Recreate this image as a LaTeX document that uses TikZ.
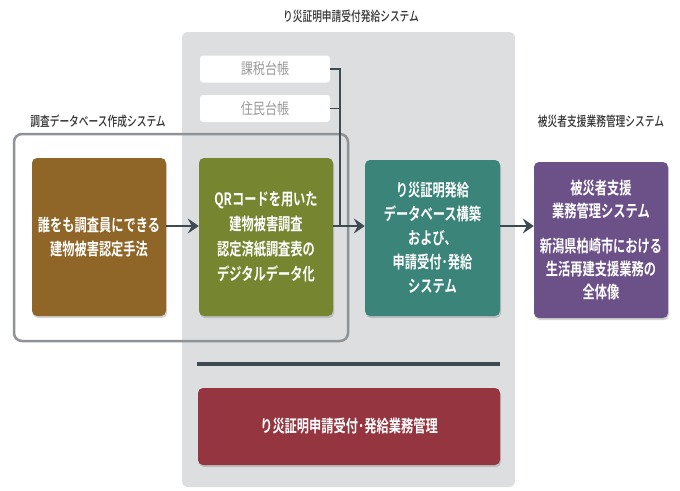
\documentclass[tikz,border=0pt]{standalone}
\usepackage{fontspec}
\setmainfont{Noto Sans CJK JP}[FakeStretch=0.78]
\newfontfamily\bxfont{Noto Sans CJK JP}[FakeStretch=0.72,UprightFont=* Bold]
\newfontfamily\ttlfont{Noto Sans CJK JP}[FakeStretch=0.72,UprightFont=* Medium]
\usetikzlibrary{arrows.meta,shadows}
\definecolor{cpanel}{HTML}{DCDEE0}
\definecolor{cbrown}{HTML}{8F6528}
\definecolor{cgreen}{HTML}{768630}
\definecolor{cteal}{HTML}{3B8479}
\definecolor{cpurple}{HTML}{6B5188}
\definecolor{cred}{HTML}{943540}
\definecolor{cdark}{HTML}{3D4A52}
\definecolor{coutline}{HTML}{8E9398}
\definecolor{cgraytext}{HTML}{9A9A9A}
\definecolor{ctitle}{HTML}{333333}
\tikzset{
  colbox/.style={rounded corners=5pt, text=white, align=center,
    font=\bxfont\fontsize{17}{24}\selectfont,
    drop shadow={shadow xshift=1pt, shadow yshift=-2pt, opacity=0.35}},
  ledger/.style={fill=white, rounded corners=3pt, text=cgraytext,
    font=\fontsize{15.5}{17}\selectfont},
  ttl/.style={text=ctitle, font=\ttlfont\fontsize{13.5}{15}\selectfont},
  arr/.style={draw=cdark, line width=2.5pt, -{Stealth[length=11pt,width=15pt,inset=4pt]}},
  conn/.style={draw=cdark, line width=1.8pt}
}
\begin{document}
\begin{tikzpicture}[x=1pt,y=-1pt]
\useasboundingbox (0,0) rectangle (680,490);
% grey panel
\fill[cpanel, rounded corners=6pt] (182,32) rectangle (515,487);
% titles
\node[ttl] (t1) at (351,16) {り災証明申請受付発給システム};
\node[ttl] (t2) at (98,121) {調査データベース作成システム};
\node[ttl] (t3) at (601,121) {被災者支援業務管理システム};
% ledgers
\node[ledger, minimum width=130pt, minimum height=27pt] (l1) at (265,69) {課税台帳};
\node[ledger, minimum width=130pt, minimum height=27pt] (l2) at (265,108.5) {住民台帳};
% outline rect
\draw[coutline, line width=2.5pt, rounded corners=8pt] (14,134) rectangle (348,341);
% boxes
\node[colbox, fill=cbrown, minimum width=134pt, minimum height=158pt] (b1) at (99,237)
  {誰をも調査員にできる\\建物被害認定手法};
\node[colbox, fill=cgreen, minimum width=134pt, minimum height=158pt,
  font=\bxfont\fontsize{17}{25}\selectfont] (b2) at (266,237)
  {QRコードを用いた\\建物被害調査\\認定済紙調査表の\\デジタルデータ化};
\node[colbox, fill=cteal, minimum width=135pt, minimum height=156pt] (b3) at (432.5,238)
  {り災証明発給\\データベース構築\\および、\\申請受付･発給\\システム};
\node[colbox, fill=cpurple, minimum width=134pt, minimum height=156pt,
  font=\bxfont\fontsize{17}{23}\selectfont] (b4) at (601,240)
  {被災者支援\\業務管理システム\\[12pt]新潟県柏崎市における\\生活再建支援業務の\\全体像};
\node[colbox, fill=cred, minimum width=302pt, minimum height=77pt,
  font=\bxfont\fontsize{17}{20}\selectfont] (b5) at (349,426.5)
  {り災証明申請受付･発給業務管理};
% separator
\coordinate (s1) at (197,364);
\coordinate (s2) at (500,364);
\draw[cdark, line width=3.5pt] (s1) -- (s2);
% connectors
\coordinate (ay) at (0,226);
\coordinate (vx) at (340,0);
\draw[conn] (l1.east) -- (l1.east -| vx) -- (vx |- ay);
\draw[conn] (l2.east) -- (l2.east -| vx);
\draw[arr] (b1.east |- ay) -- (b2.west |- ay);
\draw[arr] (b2.east |- ay) -- (b3.west |- ay);
\draw[arr] (b3.east |- ay) -- (b4.west |- ay);
\end{tikzpicture}
\end{document}
